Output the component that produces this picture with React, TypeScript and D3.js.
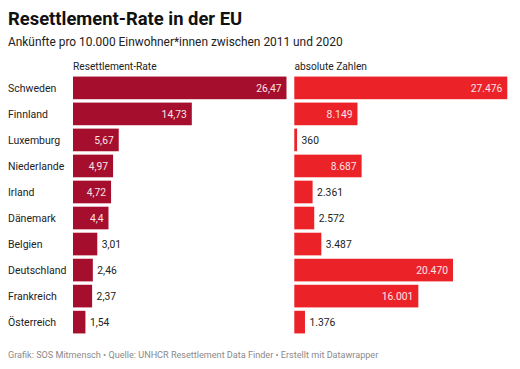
import React from 'react';
import * as d3 from 'd3';

const countries = ['Schweden', 'Finnland', 'Luxemburg', 'Niederlande', 'Irland', 'Dänemark', 'Belgien', 'Deutschland', 'Frankreich', 'Österreich'];
const rates = [26.47, 14.73, 5.67, 4.97, 4.72, 4.4, 3.01, 2.46, 2.37, 1.54];
const absolutes = [27476, 8149, 360, 8687, 2361, 2572, 3487, 20470, 16001, 1376];
const headers = ['Resettlement-Rate', 'absolute Zahlen'];

const W = 520, H = 369;
const font = 'Roboto, sans-serif';
const valueSize = 10.3;

const fmtRate = (v: number) => String(v).replace('.', ',');
const fmtAbs = (v: number) => String(v).replace(/\B(?=(\d{3})+(?!\d))/g, '.');

export default function App() {
  var y = d3.scaleBand<string>()
    .domain(countries)
    .range([75, 335])
    .paddingInner(0.13)
    .paddingOuter(0.06);

  var xRate = d3.scaleLinear().domain([0, d3.max(rates) as number]).range([73, 286.5]);
  var xAbs = d3.scaleLinear().domain([0, d3.max(absolutes) as number]).range([294.3, 507.3]);

  // label goes inside the bar when there is room, otherwise right after it
  function label(x0: number, x1: number, text: string, cy: number, key: string) {
    var textW = text.length * 0.5 * valueSize;
    var inside = x1 - x0 > textW + 12;
    return (
      <text key={key}
        x={inside ? x1 - 5 : x1 + 4.5}
        y={cy}
        dy="0.36em"
        textAnchor={inside ? 'end' : 'start'}
        fontSize={valueSize}
        fill={inside ? '#fbe3e6' : '#222'}>
        {text}
      </text>
    );
  }

  return (
    <svg width={W} height={H} style={{ position: 'absolute', left: 0, top: 0, background: '#fff' }} fontFamily={font}>
      <text x={8} y={25} fontSize={18.4} fontWeight="bold" fill="#111">Resettlement-Rate in der EU</text>
      <text x={8} y={46} fontSize={11.9} fill="#222">Ankünfte pro 10.000 Einwohner*innen zwischen 2011 und 2020</text>

      <text x={73} y={66} dy="0.36em" fontSize={10.2} fill="#222">{headers[0]}</text>
      <text x={294.5} y={66} dy="0.36em" fontSize={10.2} fill="#222">{headers[1]}</text>

      {countries.map((c, i) => {
        var by = y(c) as number;
        var cy = by + y.bandwidth() / 2;
        return (
          <g key={c}>
            <text x={8} y={cy} dy="0.36em" fontSize={10.5} fill="#222">{c}</text>
            <rect x={xRate(0)} y={by} width={xRate(rates[i]) - xRate(0)} height={y.bandwidth()} fill="#a50f2d" />
            {label(xRate(0), xRate(rates[i]), fmtRate(rates[i]), cy, 'r')}
            <rect x={xAbs(0)} y={by} width={xAbs(absolutes[i]) - xAbs(0)} height={y.bandwidth()} fill="#ec2229" />
            {label(xAbs(0), xAbs(absolutes[i]), fmtAbs(absolutes[i]), cy, 'a')}
          </g>
        );
      })}

      <text x={8} y={355} dy="0.36em" fontSize={9.1} fill="#8a8a8a">
        Grafik: SOS Mitmensch • Quelle: UNHCR Resettlement Data Finder • Erstellt mit Datawrapper
      </text>
    </svg>
  );
}
